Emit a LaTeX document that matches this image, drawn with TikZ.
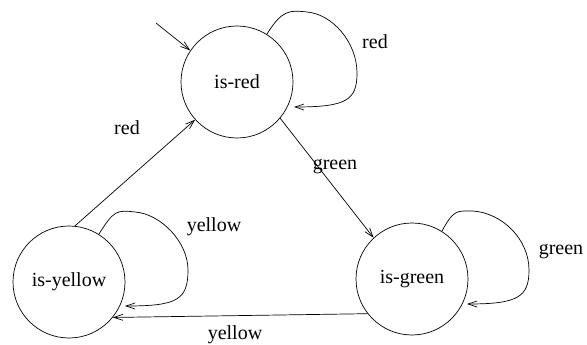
\documentclass[tikz,border=0pt]{standalone}
\usepackage{fontspec}
\setmainfont{Liberation Serif}
\usetikzlibrary{arrows.meta,calc}
\begin{document}
\begin{tikzpicture}[x=1pt,y=-1pt,
  state/.style={draw,circle,minimum size=112pt,inner sep=0pt,line width=0.7pt,font=\fontsize{20}{24}\selectfont},
  lbl/.style={font=\fontsize{20}{24}\selectfont,inner sep=0pt},
  conn/.style={line width=0.7pt,-{Straight Barb[length=9pt,width=6pt]}}]
\useasboundingbox (0,0) rectangle (587,345);
\node[state] (r) at (237,82) {is-red};
\node[state] (y) at (69,282) {is-yellow};
\node[state] (g) at (412,279) {is-green};
\coordinate (init) at (156,23);
\draw[conn] (init) -- (r.146);
% self loops
\draw[conn] (r.58) .. controls ($(r)+(45,-72)$) and ($(r)+(52,-72)$) .. ($(r)+(70,-70)$)
  .. controls ($(r)+(95,-68)$) and ($(r)+(120,-40)$) .. ($(r)+(120,-9)$)
  .. controls ($(r)+(120,18)$) and ($(r)+(110,25)$) .. ($(r)+(57,25)$);
\draw[conn] (y.58) .. controls ($(y)+(45,-72)$) and ($(y)+(48,-72)$) .. ($(y)+(66,-70)$)
  .. controls ($(y)+(92,-68)$) and ($(y)+(119,-40)$) .. ($(y)+(119,-12)$)
  .. controls ($(y)+(119,18)$) and ($(y)+(108,24)$) .. ($(y)+(56,24)$);
\draw[conn] (g.58) .. controls ($(g)+(42,-70)$) and ($(g)+(45,-68)$) .. ($(g)+(61,-68)$)
  .. controls ($(g)+(90,-66)$) and ($(g)+(117,-40)$) .. ($(g)+(117,-9)$)
  .. controls ($(g)+(117,18)$) and ($(g)+(106,25)$) .. ($(g)+(55,25)$);
% edges
\draw[conn] (y.84) -- (r.222);
\draw[conn] (r.-40) -- (g.133);
\draw[conn] (g.218) -- (y.-39.5);
% labels
\node[lbl] (l1) at (375,42) {red};
\node[lbl] (l2) at (214,227) {yellow};
\node[lbl] (l3) at (561,252) {green};
\node[lbl] (l4) at (127,128) {red};
\node[lbl] (l5) at (335,167) {green};
\node[lbl] (l6) at (235,335) {yellow};
\end{tikzpicture}
\end{document}
